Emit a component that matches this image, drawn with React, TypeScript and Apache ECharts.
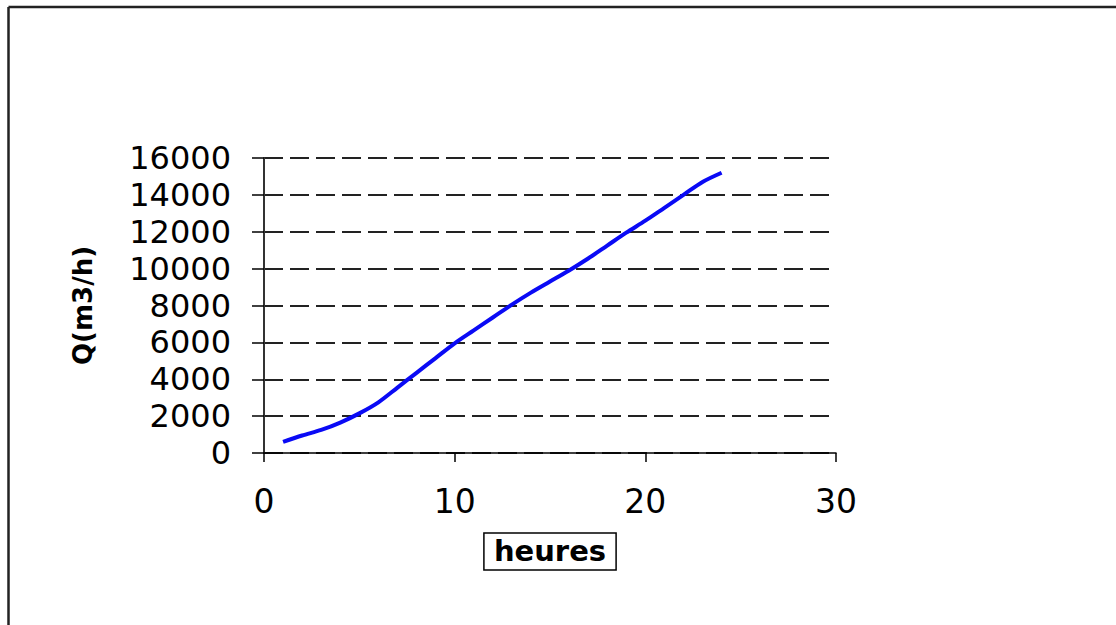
import React, { useEffect, useRef } from "react";
import * as echarts from "echarts";

const hours = [1, 2, 3, 4, 5, 6, 7, 8, 9, 10, 11, 12, 13, 14, 15, 16, 17, 18, 19, 20, 21, 22, 23, 24];
const flow = [600, 950, 1250, 1650, 2150, 2750, 3550, 4350, 5150, 5950, 6650, 7350, 8050, 8700, 9300, 9900, 10550, 11250, 11950, 12600, 13300, 14000, 14700, 15200];

const xTitle = "heures";
const yTitle = "Q(m3/h)";

export default function App() {
  const ref = useRef<HTMLDivElement>(null);
  useEffect(() => {
    if (!ref.current) return;
    const chart = echarts.init(ref.current, null, { renderer: "svg" });
    const data = hours.map((h, i) => [h, flow[i]]);
    chart.setOption({
      animation: false,
      backgroundColor: "#ffffff",
      graphic: [
        {
          type: "line",
          shape: { x1: 8.5, y1: 7, x2: 8.5, y2: 625 },
          style: { stroke: "#222", lineWidth: 2.5 },
          silent: true,
        },
        {
          type: "line",
          shape: { x1: 8.5, y1: 7, x2: 1116, y2: 7 },
          style: { stroke: "#222", lineWidth: 2.5 },
          silent: true,
        },
      ],
      grid: { left: 264, right: 280, top: 158, bottom: 172, containLabel: false },
      xAxis: {
        type: "value",
        min: 0,
        max: 30,
        interval: 10,
        name: xTitle,
        nameLocation: "middle",
        nameGap: 80,
        nameTextStyle: {
          fontFamily: "DejaVu Sans",
          fontWeight: "bold",
          fontSize: 29,
          color: "#000",
          borderColor: "#000",
          borderWidth: 1.5,
          padding: [3, 10, 5, 10],
        },
        axisLine: { show: true, lineStyle: { color: "#000", width: 1.5 } },
        axisTick: { show: true, inside: false, length: 9, lineStyle: { color: "#000", width: 1.5 } },
        axisLabel: { fontFamily: "DejaVu Sans", fontSize: 33, color: "#000", margin: 32 },
        splitLine: { show: false },
      },
      yAxis: {
        type: "value",
        min: 0,
        max: 16000,
        interval: 2000,
        name: yTitle,
        nameLocation: "middle",
        nameRotate: 90,
        nameGap: 168,
        nameTextStyle: { fontFamily: "DejaVu Sans", fontWeight: "bold", fontSize: 26, color: "#000" },
        axisLine: { show: true, lineStyle: { color: "#333", width: 2 } },
        axisTick: { show: true, inside: false, length: 12, lineStyle: { color: "#000", width: 1.5 } },
        axisLabel: {
          fontFamily: "DejaVu Sans",
          fontSize: 32,
          color: "#000",
          margin: 33,
          formatter: (v: number) => String(v),
        },
        splitLine: { show: true, lineStyle: { color: "#222", width: 2, type: [19, 7] } },
      },
      series: [
        {
          type: "line",
          data,
          smooth: 0.3,
          showSymbol: false,
          lineStyle: { color: "#0a0af5", width: 4 },
          z: 5,
        },
      ],
    });
    return () => chart.dispose();
  }, []);
  return <div ref={ref} style={{ position: "absolute", left: 0, top: 0, width: 1116, height: 625 }} />;
}
